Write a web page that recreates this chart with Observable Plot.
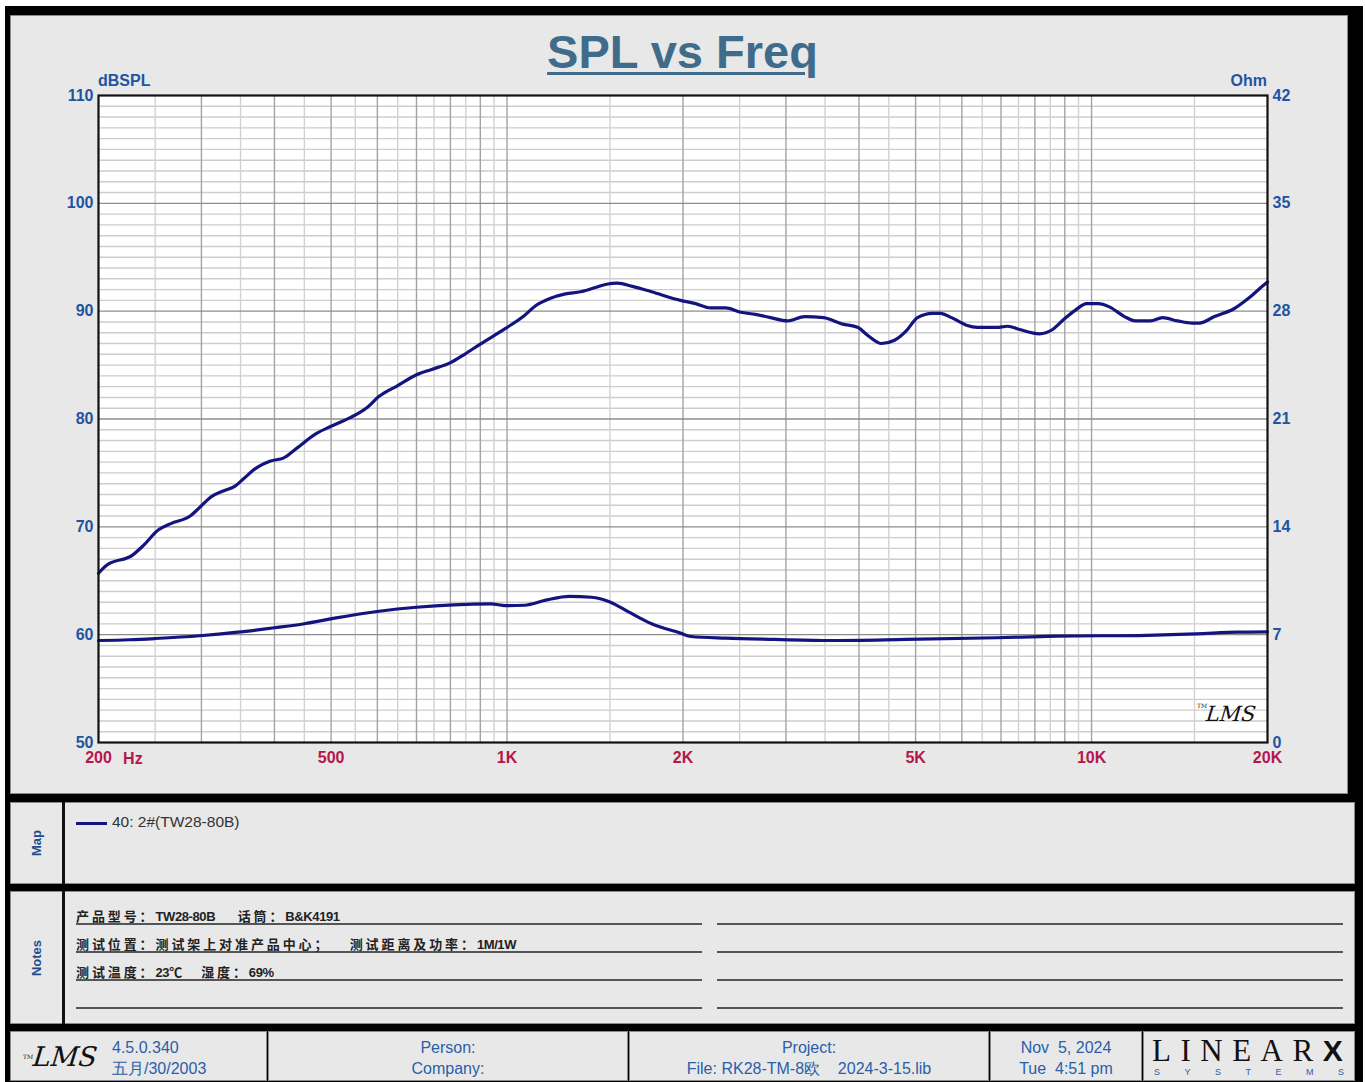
<!DOCTYPE html>
<html>
<head>
<meta charset="utf-8">
<script src="https://cdn.jsdelivr.net/npm/d3@7"></script>
<script src="https://cdn.jsdelivr.net/npm/@observablehq/plot@0.6"></script>
<style>
  html, body { margin:0; padding:0; background:#fff; }
  body { width:1365px; height:1082px; position:relative; overflow:hidden; font-family:"Liberation Sans Narrow","Liberation Sans",Arial,sans-serif; }
  .abs { position:absolute; }
  .panel { position:absolute; background:#e8e8e8; box-sizing:border-box; border:1px solid #8a8a8a; }
  .blue { color:#1f55a0; }
  .lbl { font-weight:bold; }
  .note { position:absolute; left:76px; width:626px; height:24px; border-bottom:2px solid #555; font-weight:bold; color:#222; line-height:34px; white-space:pre; overflow:visible; }
  .note .cjk { font-family:"Noto Sans CJK SC",sans-serif; font-size:13px; letter-spacing:2.9px; }
  .note .lat { font-family:"Liberation Sans",Arial,sans-serif; font-size:13px; letter-spacing:-0.4px; }
  .noteR { position:absolute; left:717px; width:626px; height:24px; border-bottom:2px solid #555; }
  .foot { position:absolute; top:1031px; height:50px; background:#e8e8e8; box-sizing:border-box; border:1px solid #8a8a8a; color:#2a5ea8; font-size:16px; text-align:center; line-height:20px; }
  .sys { position:absolute; left:10px; top:34px; width:190px; display:flex; justify-content:space-between; font-family:"Liberation Sans",Arial,sans-serif; font-size:9px; color:#2a5ea8; line-height:12px; }
</style>
</head>
<body>
<div class="abs" style="left:5px;top:6px;width:1358px;height:1080px;background:#000"></div>
<div class="panel" style="left:10px;top:15px;width:1338px;height:779px"></div>
<div class="panel" style="left:10px;top:802px;width:1345px;height:82px"></div>
<div class="abs" style="left:62px;top:802px;width:3px;height:82px;background:#111"></div>
<div class="panel" style="left:10px;top:891px;width:1345px;height:133px"></div>
<div class="abs" style="left:62px;top:891px;width:3px;height:133px;background:#111"></div>

<div id="chart" class="abs" style="left:0;top:0"></div>

<div class="abs" id="title" style="left:0;width:1365px;top:24px;text-align:center;font-family:'Liberation Sans',Arial,sans-serif;font-weight:bold;font-size:47px;color:#3f6c8b;text-decoration:underline;text-decoration-thickness:3px;text-underline-offset:4px;line-height:56px"></div>
<div class="abs blue lbl" id="yLabelL" style="left:98px;top:72px;font-size:16px"></div>
<div class="abs blue lbl" id="yLabelR" style="left:1200px;width:67px;text-align:right;top:72px;font-size:16px"></div>
<div class="abs" style="left:1196px;top:702px;font-family:'DejaVu Serif',serif;font-style:italic;font-size:21px;color:#111;letter-spacing:0px;transform:skewX(-6deg)"><span style="font-size:6px;vertical-align:top;font-style:normal">TM</span>LMS</div>

<div class="abs lbl" style="left:36px;top:843px;transform:translate(-50%,-50%) rotate(-90deg);font-family:'Liberation Sans',Arial,sans-serif;font-size:13px;color:#1f4e8f">Map</div>
<div class="abs" style="left:76px;top:822px;width:31px;height:3px;background:#14147f"></div>
<div class="abs" id="legend" style="left:112px;top:813px;font-family:'Liberation Sans',Arial,sans-serif;font-size:15.5px;color:#333"></div>

<div class="abs lbl" style="left:36px;top:958px;transform:translate(-50%,-50%) rotate(-90deg);font-family:'Liberation Sans',Arial,sans-serif;font-size:13px;color:#1f4e8f">Notes</div>
<div id="notes"></div>

<div class="foot" style="left:10px;width:257px">
  <div class="abs" style="left:12px;top:7px;font-family:'DejaVu Serif',serif;font-style:italic;font-size:27px;line-height:36px;color:#111;transform:skewX(-6deg)"><span style="font-size:6px;vertical-align:top;font-style:normal">TM</span>LMS</div>
  <div class="abs" id="ver" style="left:101px;top:5px;text-align:left;line-height:21px"></div>
</div>
<div class="foot" id="f2" style="left:268px;width:360px;padding-top:5px;line-height:21px"></div>
<div class="foot" id="f3" style="left:629px;width:360px;padding-top:5px;line-height:21px"></div>
<div class="foot" id="f4" style="left:990px;width:152px;padding-top:5px;line-height:21px"></div>
<div class="foot" style="left:1143px;width:212px;background:#e8e8e8">
  <div class="abs" style="left:8px;top:2px;font-family:'Liberation Serif','DejaVu Serif',serif;font-size:31px;letter-spacing:9.5px;color:#111;line-height:34px;white-space:nowrap">LINEAR<span style="font-family:'Liberation Sans',Arial,sans-serif;font-weight:900;font-size:30px;letter-spacing:0">X</span></div>
  <div class="sys" id="sys"></div>
</div>

<script>
// ---------- data ----------
const splFreq = [200,206,229,239,253,266,287,298,312,326,343,355,371,394,415,437,470,499,538,577,604,650,700,743,799,846,897,994,1071,1119,1187,1259,1336,1417,1480,1545,1639,1767,1980,2101,2229,2365,2509,2661,2823,3019,3228,3479,3750,3977,4153,4371,4601,4824,5037,5345,5515,5760,6110,6380,6879,7184,7530,8147,8576,8990,9388,9804,10276,10731,11385,11889,12613,13227,14030,14884,15300,16232,17492,18558,19688,20000];
const splDb = [65.7,66.4,67.4,68.3,69.7,70.3,71.0,71.8,72.8,73.3,73.8,74.5,75.4,76.1,76.4,77.3,78.6,79.3,80.1,81.1,82.1,83.1,84.1,84.6,85.2,86.0,86.9,88.4,89.6,90.5,91.2,91.6,91.8,92.2,92.5,92.6,92.3,91.8,91.0,90.7,90.3,90.3,89.9,89.7,89.4,89.1,89.5,89.4,88.8,88.5,87.7,87.0,87.3,88.2,89.4,89.8,89.8,89.4,88.7,88.5,88.5,88.6,88.3,87.9,88.3,89.3,90.1,90.7,90.7,90.4,89.5,89.1,89.1,89.4,89.1,88.9,88.9,89.5,90.2,91.2,92.4,92.7];
const impFreq = [200,226,250,298,346,400,450,507,604,700,810,939,994,1071,1170,1279,1395,1503,1617,1767,1980,2064,2365,2868,3584,4818,6879,8710,12442,15090,17772,20000];
const impOhm = [6.62,6.67,6.75,6.93,7.16,7.45,7.71,8.07,8.52,8.78,8.94,9.00,8.89,8.91,9.26,9.48,9.43,9.11,8.46,7.71,7.10,6.88,6.77,6.69,6.62,6.69,6.80,6.90,6.96,7.05,7.16,7.18];

const dbTicks = [50,60,70,80,90,100,110];
const ohmTicks = ["0","7","14","21","28","35","42"];
const freqTicks = [200,500,1000,2000,5000,10000,20000];
const freqLabels = ["200","500","1K","2K","5K","10K","20K"];
const freqMajorGrid = [300,400,500,600,700,800,900,1000,2000,3000,4000,5000,6000,7000,8000,9000,10000];
const freqMinorGrid = [250,350,450,550,650,750,850,950,1500,2500,3500,4500,5500,6500,7500,8500,9500,15000];
const dbMinorGrid = d3.range(51,110).filter(d => d % 10 !== 0);
const dbMajorGrid = [60,70,80,90,100];
const ohmMax = 42, dbMin = 50, dbMax = 110;
const unitLabelFreq = 229; // where the "Hz" unit sits along the axis

const titleText = "SPL vs Freq";
const yLabelLeft = "dBSPL", yLabelRight = "Ohm", xUnit = "Hz";
const legendText = "40: 2#(TW28-80B)";
const notesLeft = ["产品型号：TW28-80B       话筒：B&K4191", "测试位置：测试架上对准产品中心；      测试距离及功率：1M/1W", "测试温度：23℃     湿度：69%", ""];
const versionLines = ["4.5.0.340", "五月/30/2003"];
const personLines = ["Person:", "Company:"];
const projectLines = ["Project:", "File: RK28-TM-8欧    2024-3-15.lib"];
const dateLines = ["Nov  5, 2024", "Tue  4:51 pm"];
const logoSub = ["S","Y","S","T","E","M","S"];

// ---------- tables ----------
const spl = splFreq.map((f,i) => ({f, v: splDb[i]}));
const ohmToDb = o => dbMin + o * (dbMax - dbMin) / ohmMax;
const imp = impFreq.map((f,i) => ({f, v: ohmToDb(impOhm[i])}));

const navy = "#14147f";
const font = "'Liberation Sans Narrow','Liberation Sans',Arial,sans-serif";

const chart = Plot.plot({
  width: 1365, height: 800,
  marginLeft: 98, marginRight: 98, marginTop: 95, marginBottom: 58,
  style: {background: "transparent", fontFamily: font},
  x: {type: "log", domain: [200, 20000]},
  y: {domain: [dbMin, dbMax]},
  marks: [
    Plot.frame({fill: "white", stroke: null}),
    Plot.ruleY(dbMinorGrid, {stroke: "#cdcdcd", strokeWidth: 1.4}),
    Plot.ruleX(freqMinorGrid, {stroke: "#d2d2d2", strokeWidth: 1.4}),
    Plot.ruleX(freqMajorGrid, {stroke: "#a3a3a3", strokeWidth: 1.4}),
    Plot.ruleY(dbMajorGrid, {stroke: "#8c8c8c", strokeWidth: 1.4}),
    Plot.line(imp, {x: "f", y: "v", stroke: navy, strokeWidth: 3.2, curve: "monotone-x"}),
    Plot.line(spl, {x: "f", y: "v", stroke: navy, strokeWidth: 3.2, curve: "monotone-x"}),
    Plot.frame({stroke: "#111", strokeWidth: 2.2}),
    Plot.axisY({ticks: dbTicks, tickSize: 0, tickPadding: 5, fill: "#1f55a0", fontSize: 16, fontWeight: "bold", label: null}),
    Plot.axisY({anchor: "right", ticks: dbTicks, tickSize: 0, tickPadding: 5, fill: "#1f55a0", fontSize: 16, fontWeight: "bold", label: null,
                tickFormat: d => ohmTicks[dbTicks.indexOf(d)]}),
    Plot.axisX({ticks: freqTicks, tickSize: 0, tickPadding: 9, fill: "#b5174b", fontSize: 16, fontWeight: "bold", label: null,
                tickFormat: d => freqLabels[freqTicks.indexOf(d)]}),
    Plot.text([xUnit], {x: [unitLabelFreq], frameAnchor: "bottom", dy: 21, fill: "#b5174b", fontSize: 16, fontWeight: "bold"})
  ]
});
document.getElementById("chart").appendChild(chart);

document.getElementById("title").textContent = titleText;
document.getElementById("yLabelL").textContent = yLabelLeft;
document.getElementById("yLabelR").textContent = yLabelRight;
document.getElementById("legend").textContent = legendText;
document.getElementById("sys").innerHTML = logoSub.map(s => `<span>${s}</span>`).join("");

const esc = s => s.replace(/&/g, "&amp;").replace(/</g, "&lt;");
const isCjk = /[\u3000-\u9fff\uff00-\uffef\u2103]/;
const runs = t => (t.match(/[\u3000-\u9fff\uff00-\uffef\u2103]+|[^\u3000-\u9fff\uff00-\uffef\u2103]+/g) || [])
  .map(r => isCjk.test(r) ? `<span class="cjk">${esc(r)}</span>` : `<span class="lat">${esc(r)}</span>`).join("");

const notes = document.getElementById("notes");
const noteTops = [899, 927, 955, 983];
notesLeft.forEach((t, i) => {
  const d = document.createElement("div");
  d.className = "note"; d.style.top = noteTops[i] + "px"; d.innerHTML = runs(t);
  notes.appendChild(d);
  const r = document.createElement("div");
  r.className = "noteR"; r.style.top = noteTops[i] + "px";
  notes.appendChild(r);
});
const nb = s => s.replace(/ {2,}/g, m => "&nbsp;".repeat(m.length));
document.getElementById("ver").innerHTML = versionLines.join("<br>");
document.getElementById("f2").innerHTML = personLines.join("<br>");
document.getElementById("f3").innerHTML = projectLines.map(nb).join("<br>");
document.getElementById("f4").innerHTML = dateLines.map(nb).join("<br>");
</script>
</body>
</html>
